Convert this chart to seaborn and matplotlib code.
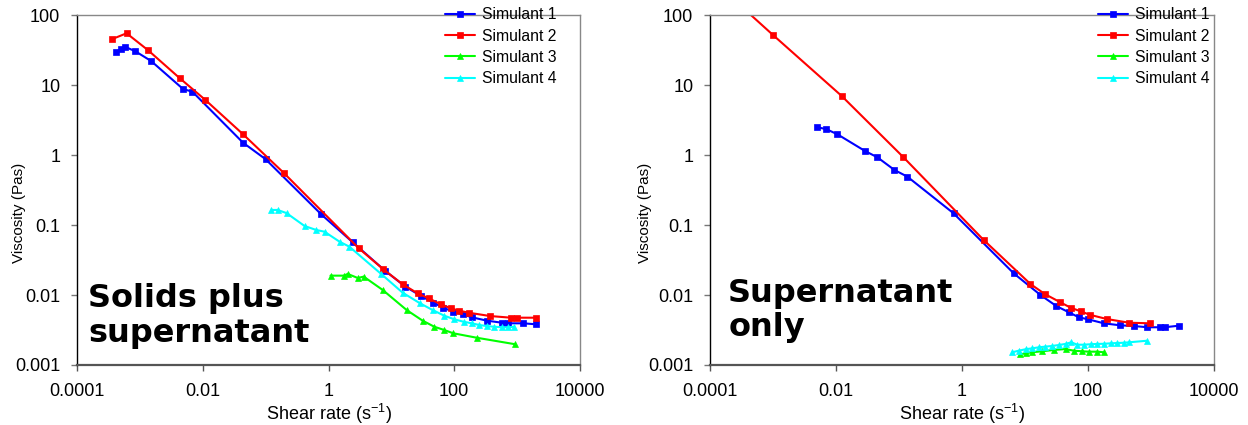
import matplotlib
matplotlib.use("Agg")
import matplotlib.pyplot as plt
import seaborn as sns
import pandas as pd
from matplotlib.ticker import FixedLocator, FixedFormatter, NullLocator

# ---------------- data ----------------
series_names = ["Simulant 1", "Simulant 2", "Simulant 3", "Simulant 4"]

# Left panel: solids plus supernatant
s1_L_x = [4.16e-4, 5.0e-4, 5.9e-4, 8.5e-4, 1.51e-3, 4.86e-3, 6.87e-3, 0.0437, 0.1, 0.766, 2.43, 8.03,
          16.7, 29.6, 46.4, 66.8, 96.4, 135.5, 191, 330, 572, 728, 1259, 2023]
s1_L_y = [29.9, 32.4, 34.9, 30.3, 22, 8.77, 8.0, 1.5, 0.87, 0.142, 0.0566, 0.022,
          0.01315, 0.00968, 0.00777, 0.00659, 0.00577, 0.0053, 0.0048, 0.0043, 0.00402, 0.00394, 0.00394, 0.00381]
s2_L_x = [3.56e-4, 6.15e-4, 1.355e-3, 4.31e-3, 0.01104, 0.0437, 0.193, 3.03, 7.46, 15.1, 26.1, 39.1,
          61.5, 88.7, 120, 169, 369, 794, 1012, 2023]
s2_L_y = [45, 54.8, 31.3, 12.5, 6.1, 1.98, 0.558, 0.0465, 0.0233, 0.01422, 0.01057, 0.00897,
          0.00736, 0.00645, 0.00597, 0.00559, 0.00501, 0.00474, 0.00474, 0.00474]
s3_L_x = [1.076, 1.75, 2.02, 2.92, 3.63, 7.28, 17.5, 31.4, 48.2, 69.4, 96.4, 229, 929]
s3_L_y = [0.0189, 0.0189, 0.02, 0.0175, 0.0183, 0.0118, 0.0061, 0.0043, 0.00352, 0.00316, 0.00284, 0.00245, 0.00198]
s4_L_x = [0.124, 0.155, 0.215, 0.416, 0.638, 0.865, 1.5, 2.15, 6.87, 15.1, 28.6, 45.3, 69.4, 100,
          140.6, 191, 249, 330, 432, 585, 728, 896]
s4_L_y = [0.164, 0.164, 0.148, 0.0968, 0.0849, 0.0802, 0.0577, 0.049, 0.02, 0.0108, 0.0076, 0.0061,
          0.00506, 0.0045, 0.00415, 0.00394, 0.00373, 0.0036, 0.00352, 0.00346, 0.00346, 0.00352]

# Right panel: supernatant only
s1_R_x = [5.03e-3, 6.93e-3, 0.0105, 0.0289, 0.0454, 0.0848, 0.136, 0.734, 6.62, 17.6, 31.3, 49.7,
          71.6, 99.6, 179, 322, 537, 879, 1393, 1656, 2735]
s1_R_y = [2.49, 2.35, 1.98, 1.14, 0.927, 0.61, 0.49, 0.147, 0.0204, 0.01, 0.00697, 0.00566,
          0.0048, 0.0045, 0.00394, 0.00369, 0.0036, 0.00346, 0.00346, 0.00346, 0.00364]
s2_R_x = [2.97e-4, 1.0e-3, 0.01233, 0.1178, 2.21, 12.2, 20.6, 35.7, 52.9, 76.3, 106, 198, 447, 966]
s2_R_y = [139, 51.8, 6.96, 0.927, 0.061, 0.01436, 0.01033, 0.00794, 0.00659, 0.00585, 0.00523,
          0.00454, 0.00402, 0.00394]
s3_R_x = [8.47, 10.2, 13.0, 18.8, 28.7, 44.0, 59.7, 81.2, 103, 141, 179]
s3_R_y = [0.00142, 0.00147, 0.00152, 0.00157, 0.00164, 0.00169, 0.0016, 0.00157, 0.00155, 0.00155, 0.00152]
s4_R_x = [6.25, 7.95, 10.2, 13.0, 16.6, 21.1, 27.0, 34.4, 44.0, 54.2, 67.6, 86.1, 110, 141, 179,
          229, 292, 372, 448, 857]
s4_R_y = [0.00152, 0.0016, 0.00168, 0.00173, 0.00179, 0.00183, 0.00187, 0.00193, 0.002, 0.00211,
          0.00195, 0.00195, 0.00198, 0.002, 0.00201, 0.00204, 0.00206, 0.00208, 0.00211, 0.00222]

x_ticks = [1e-4, 1e-2, 1, 1e2, 1e4]
x_tick_labels = ["0.0001", "0.01", "1", "100", "10000"]
y_ticks = [1e-3, 1e-2, 1e-1, 1, 10, 100]
y_tick_labels = ["0.001", "0.01", "0.1", "1", "10", "100"]

panel_titles = ["Solids plus\nsupernatant", "Supernatant\nonly"]

# ---------------- style ----------------
sns.set_style("white")
plt.rcParams["font.family"] = ["Liberation Sans", "DejaVu Sans"]
plt.rcParams["mathtext.default"] = "regular"
plt.rcParams["text.color"] = "black"
plt.rcParams["axes.labelcolor"] = "black"
plt.rcParams["xtick.color"] = "black"
plt.rcParams["ytick.color"] = "black"

colors = ["#0000FF", "#FF0000", "#00FF00", "#00FFFF"]
markers = ["s", "s", "^", "^"]
msizes = [4.8, 4.8, 5.0, 5.0]

fig = plt.figure(figsize=(12.48, 4.25), dpi=100)
axL = fig.add_axes([77 / 1248, 60 / 425, 503 / 1248, 350 / 425])
axR = fig.add_axes([710 / 1248, 60 / 425, 504 / 1248, 350 / 425])

left_data = [(s1_L_x, s1_L_y), (s2_L_x, s2_L_y), (s3_L_x, s3_L_y), (s4_L_x, s4_L_y)]
right_data = [(s1_R_x, s1_R_y), (s2_R_x, s2_R_y), (s3_R_x, s3_R_y), (s4_R_x, s4_R_y)]


def draw_panel(ax, data, title, title_pos, legend_x, ylabel_x):
    ax.set_xscale("log")
    ax.set_yscale("log")
    for name, (xs, ys), c, m, ms in zip(series_names, data, colors, markers, msizes):
        df = pd.DataFrame({"x": xs, "y": ys})
        sns.lineplot(data=df, x="x", y="y", ax=ax, color=c, marker=m, markersize=ms,
                     markeredgecolor=c, markeredgewidth=0.5, linewidth=1.5,
                     label=name, estimator=None, sort=False)
    ax.set_xlim(1e-4, 1e4)
    ax.set_ylim(1e-3, 1e2)
    ax.xaxis.set_major_locator(FixedLocator(x_ticks))
    ax.xaxis.set_major_formatter(FixedFormatter(x_tick_labels))
    ax.yaxis.set_major_locator(FixedLocator(y_ticks))
    ax.yaxis.set_major_formatter(FixedFormatter(y_tick_labels))
    ax.xaxis.set_minor_locator(NullLocator())
    ax.yaxis.set_minor_locator(NullLocator())
    ax.tick_params(axis="x", direction="out", length=4, width=1, color="#555555",
                   labelcolor="black", labelsize=13, pad=9, bottom=True)
    ax.tick_params(axis="y", direction="out", length=4, width=1, color="#777777",
                   labelcolor="black", labelsize=13, pad=8, left=True)
    for side in ["top", "right"]:
        ax.spines[side].set_color("#888888")
        ax.spines[side].set_linewidth(1.0)
    ax.spines["left"].set_color("black")
    ax.spines["left"].set_linewidth(1.0)
    ax.spines["bottom"].set_color("#555555")
    ax.spines["bottom"].set_linewidth(1.6)

    ax.set_xlabel("Shear rate (s$^{-1}$)", fontsize=13, labelpad=1, color="black")
    ax.set_ylabel("Viscosity (Pas)", fontsize=11, color="black")
    ax.yaxis.set_label_coords(ylabel_x, 0.434)

    ax.text(title_pos[0], title_pos[1], title, transform=ax.transAxes, ha="left", va="top",
            fontsize=23, fontweight="bold", family="DejaVu Sans", linespacing=1.15,
            color="black")

    leg = ax.legend(loc="upper left", bbox_to_anchor=(legend_x, 1.022), frameon=False,
                    fontsize=11.3, handlelength=1.9, handletextpad=0.45, labelspacing=0.4,
                    borderpad=0, borderaxespad=0)
    for t in leg.get_texts():
        t.set_color("black")


draw_panel(axL, left_data, panel_titles[0], (0.022, 0.234), 0.7316, -0.101)
draw_panel(axR, right_data, panel_titles[1], (0.036, 0.249), 0.77, -0.115)

fig.savefig("out.png", dpi=100, facecolor="white")
